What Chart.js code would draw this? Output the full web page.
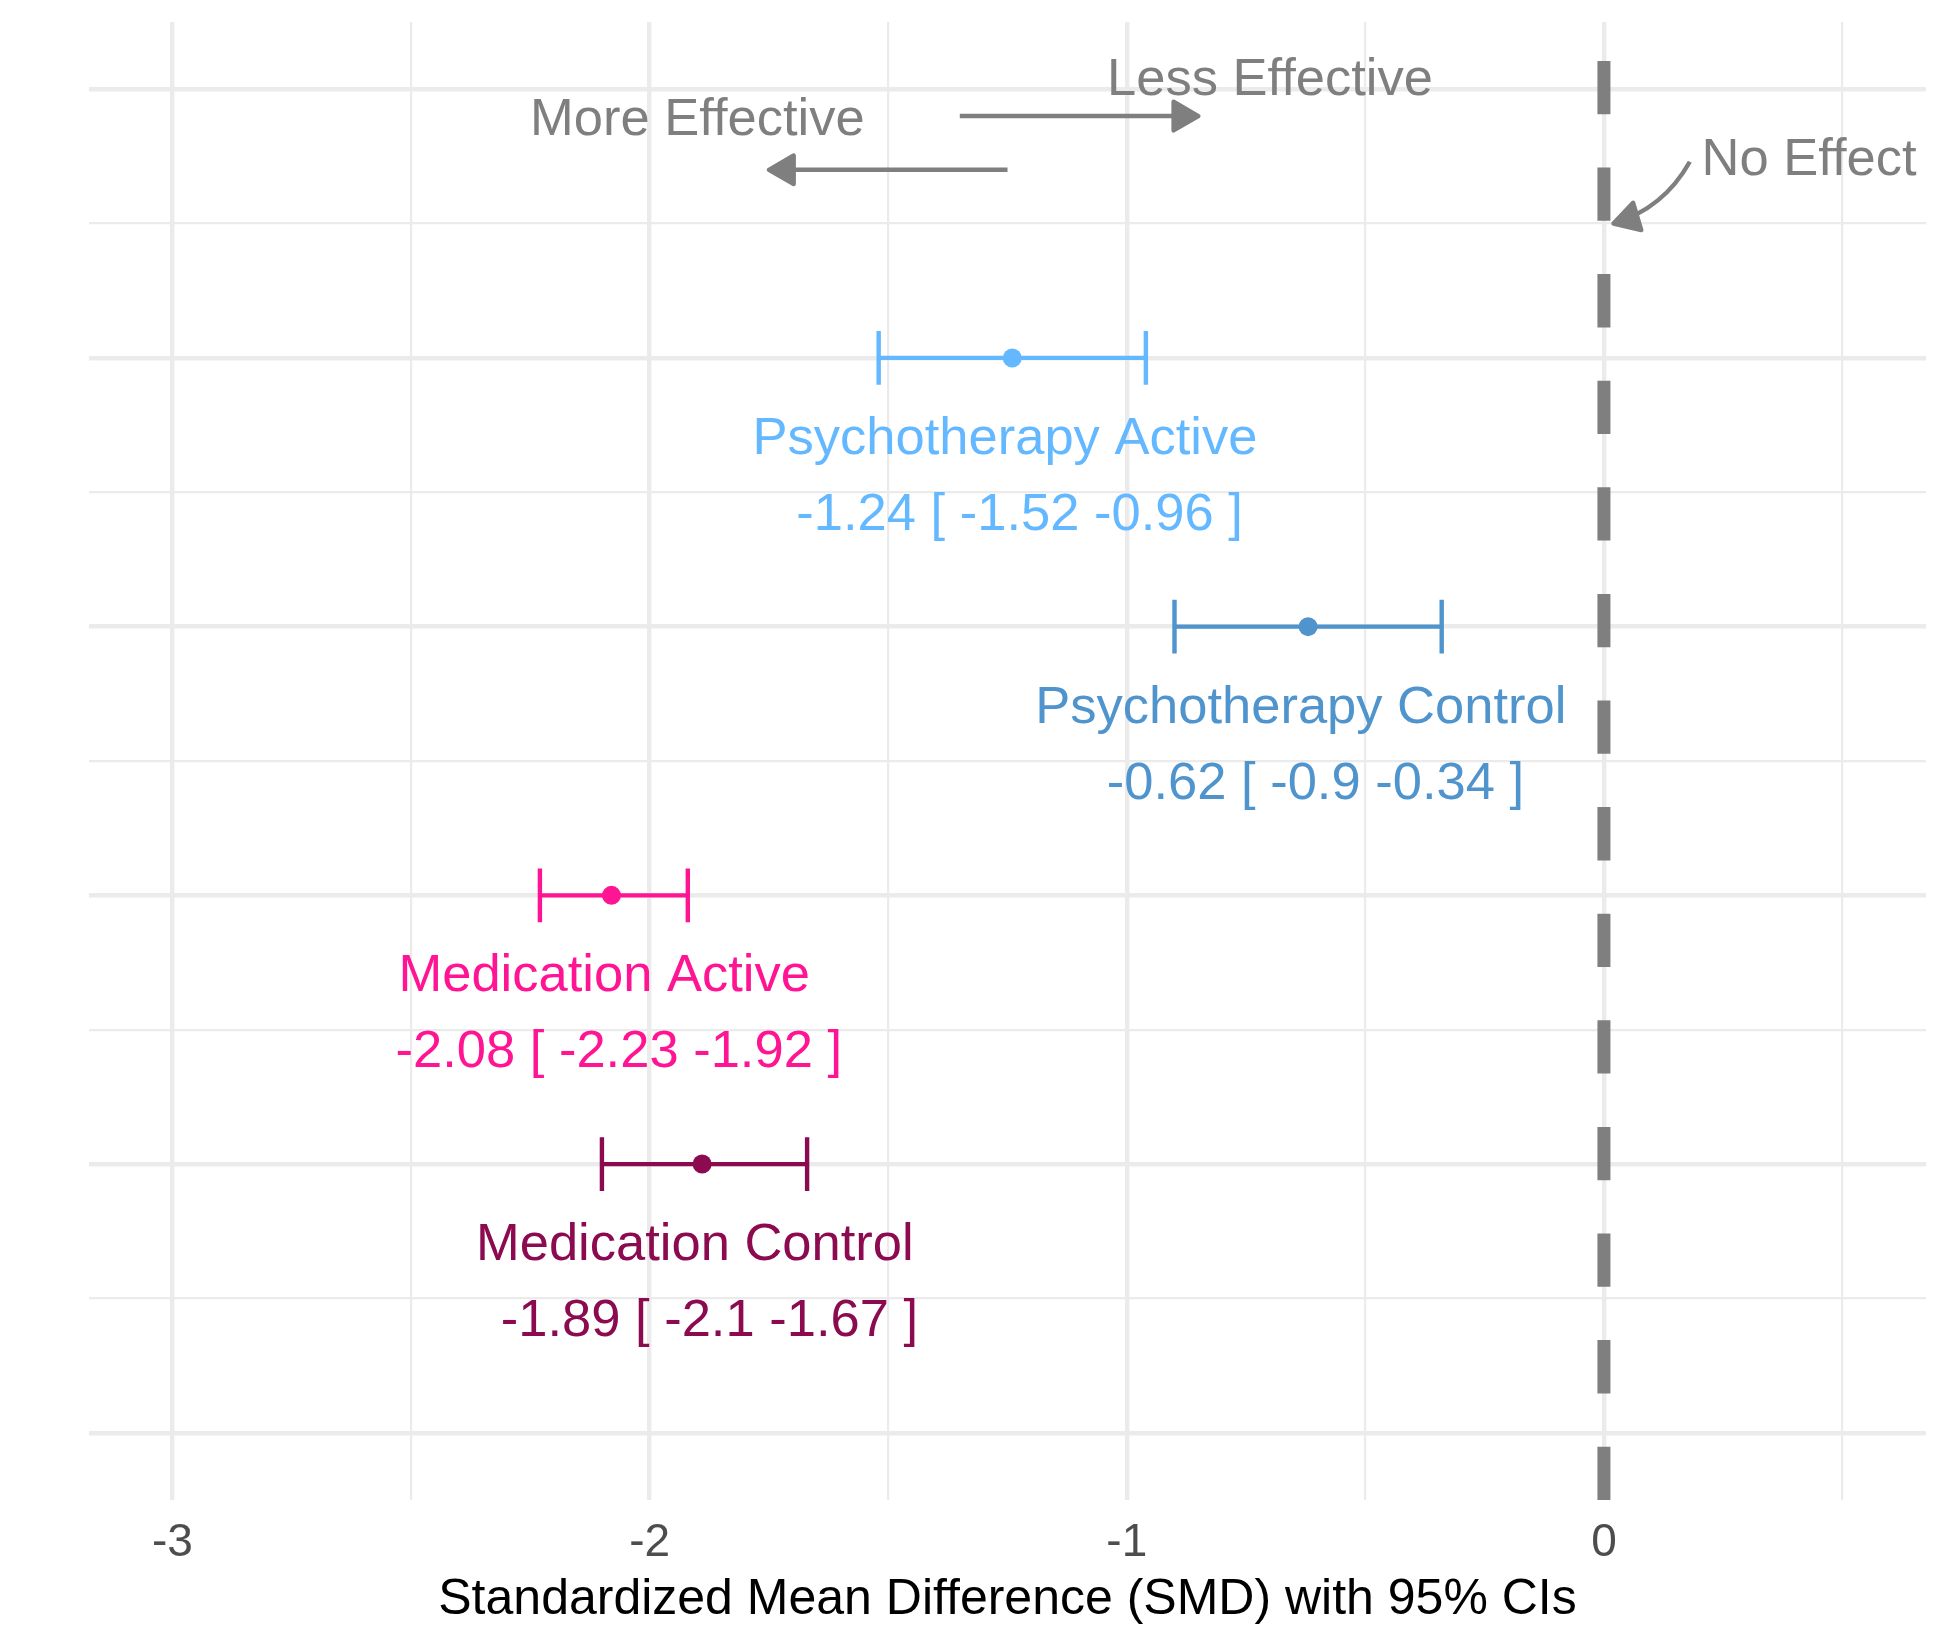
<!DOCTYPE html>
<html>
<head>
<meta charset="utf-8">
<script src="https://cdn.jsdelivr.net/npm/chart.js@4.4.1/dist/chart.umd.min.js"></script>
<style>
  html, body { margin: 0; padding: 0; background: #ffffff; }
  canvas { display: block; }
</style>
</head>
<body>
<canvas id="chart" width="1950" height="1650" style="width:1950px;height:1650px"></canvas>
<script>
// ---------------- data ----------------
const groups = ['Psychotherapy Active', 'Psychotherapy Control', 'Medication Active', 'Medication Control'];
const estimates = [-1.24, -0.62, -2.08, -1.89];
const ciLower = [-1.52, -0.9, -2.23, -2.1];
const ciUpper = [-0.96, -0.34, -1.92, -1.67];
const rowPositions = [4, 3, 2, 1];
const groupColors = ['#63B8FF', '#4F94CD', '#FF1493', '#8B0A50'];

const xTickValues = [-3, -2.5, -2, -1.5, -1, -0.5, 0, 0.5];
const xTickLabels = ['-3', '', '-2', '', '-1', '', '0', ''];
const yGridValues = [0, 0.5, 1, 1.5, 2, 2.5, 3, 3.5, 4, 4.5, 5];
const xAxisTitle = 'Standardized Mean Difference (SMD) with 95% CIs';

const noEffectValue = 0;

// annotations (data units)
const annotationTexts = ['Less Effective', 'More Effective', 'No Effect'];
const annotationX = [-0.7, -1.9, 0.43];
const annotationY = [5.05, 4.9, 4.75];
const arrowStartX = [-1.35, -1.25];
const arrowEndX = [-0.85, -1.75];
const arrowY = [4.9, 4.7];
const curveStart = [0.18, 4.73];
const curveControl = [0.125, 4.556];
const curveEnd = [0.02, 4.5];

// ---------------- styles ----------------
const FONT = '"Liberation Sans", Arial, Helvetica, sans-serif';
const X_MIN = -3.175, X_MAX = 0.675, Y_MIN = -0.25, Y_MAX = 5.25;
const CAP_HALF = 0.1;
const NAME_OFFSET = 0.357, STAT_OFFSET = 0.640;
const GRAY = '#7F7F7F';

// ---------------- datasets ----------------
const datasets = [];

// dashed no-effect line (drawn from bottom up)
datasets.push({
  label: 'no effect',
  data: [{x: noEffectValue, y: Y_MIN}, {x: noEffectValue, y: Y_MAX}],
  showLine: true,
  borderColor: GRAY,
  borderWidth: 13,
  borderDash: [53.3, 53.3],
  borderCapStyle: 'butt',
  pointRadius: 0,
  order: 3
});

// error bars
groups.forEach((g, i) => {
  const y = rowPositions[i];
  datasets.push({
    label: g + ' CI',
    data: [
      {x: ciLower[i], y: y - CAP_HALF}, {x: ciLower[i], y: y + CAP_HALF}, {x: null, y: null},
      {x: ciLower[i], y: y}, {x: ciUpper[i], y: y}, {x: null, y: null},
      {x: ciUpper[i], y: y - CAP_HALF}, {x: ciUpper[i], y: y + CAP_HALF}
    ],
    showLine: true,
    spanGaps: false,
    borderColor: groupColors[i],
    borderWidth: 4.4,
    borderCapStyle: 'butt',
    pointRadius: 0,
    order: 2
  });
});

// point estimates
datasets.push({
  label: 'estimates',
  data: estimates.map((e, i) => ({x: e, y: rowPositions[i]})),
  pointRadius: 9.5,
  pointBackgroundColor: groupColors,
  pointBorderColor: groupColors,
  pointBorderWidth: 0,
  showLine: false,
  order: 1
});

// ---------------- annotation plugin ----------------
function drawArrowHead(ctx, tipX, tipY, dirX, dirY, color) {
  const len = Math.hypot(dirX, dirY);
  const ux = dirX / len, uy = dirY / len;
  const side = 28.6, ang = Math.PI / 6;
  const ax = side * Math.cos(ang), aw = side * Math.sin(ang);
  const bx = tipX - ux * ax, by = tipY - uy * ax;
  ctx.beginPath();
  ctx.moveTo(tipX, tipY);
  ctx.lineTo(bx - uy * aw, by + ux * aw);
  ctx.lineTo(bx + uy * aw, by - ux * aw);
  ctx.closePath();
  ctx.fillStyle = color;
  ctx.strokeStyle = color;
  ctx.lineWidth = 4.4;
  ctx.lineJoin = 'round';
  ctx.fill();
  ctx.stroke();
}

const annotationPlugin = {
  id: 'forestAnnotations',
  afterDatasetsDraw(chart) {
    const {ctx} = chart;
    const xs = chart.scales.x, ys = chart.scales.y;
    ctx.save();

    // group labels
    const labelSize = 52.5;
    ctx.font = `${labelSize}px ${FONT}`;
    ctx.textAlign = 'center';
    ctx.textBaseline = 'alphabetic';
    groups.forEach((g, i) => {
      const px = xs.getPixelForValue(estimates[i]);
      ctx.fillStyle = groupColors[i];
      ctx.fillText(g + ' ', px, ys.getPixelForValue(rowPositions[i] - NAME_OFFSET));
      const stat = ' ' + estimates[i] + ' [ ' + ciLower[i] + ' ' + ciUpper[i] + ' ]';
      ctx.fillText(stat, px, ys.getPixelForValue(rowPositions[i] - STAT_OFFSET));
    });

    // annotation texts (cap-centred at the given y)
    ctx.fillStyle = GRAY;
    annotationTexts.forEach((t, i) => {
      const px = xs.getPixelForValue(annotationX[i]);
      const py = ys.getPixelForValue(annotationY[i]) + 0.358 * labelSize;
      ctx.fillText(t, px, py);
    });

    // straight arrows
    arrowStartX.forEach((sx, i) => {
      const x0 = xs.getPixelForValue(sx), x1 = xs.getPixelForValue(arrowEndX[i]);
      const y0 = ys.getPixelForValue(arrowY[i]);
      ctx.beginPath();
      ctx.moveTo(x0, y0);
      ctx.lineTo(x1 - Math.sign(x1 - x0) * 20, y0);
      ctx.strokeStyle = GRAY;
      ctx.lineWidth = 4.4;
      ctx.lineCap = 'butt';
      ctx.stroke();
      drawArrowHead(ctx, x1, y0, x1 - x0, 0, GRAY);
    });

    // curved arrow to the no-effect line
    const sX = xs.getPixelForValue(curveStart[0]), sY = ys.getPixelForValue(curveStart[1]);
    const cX = xs.getPixelForValue(curveControl[0]), cY = ys.getPixelForValue(curveControl[1]);
    const eX = xs.getPixelForValue(curveEnd[0]), eY = ys.getPixelForValue(curveEnd[1]);
    ctx.beginPath();
    ctx.moveTo(sX, sY);
    ctx.quadraticCurveTo(cX, cY, eX, eY);
    ctx.strokeStyle = GRAY;
    ctx.lineWidth = 4.4;
    ctx.lineCap = 'butt';
    ctx.stroke();
    drawArrowHead(ctx, eX, eY, eX - cX, eY - cY, GRAY);

    ctx.restore();
  }
};

// ---------------- chart ----------------
const gridWidth = ctx => (ctx.tick && Number.isInteger(ctx.tick.value)) ? 4.4 : 2.2;

new Chart(document.getElementById('chart'), {
  type: 'scatter',
  data: {datasets},
  options: {
    responsive: false,
    animation: false,
    devicePixelRatio: 1,
    layout: {padding: {left: 89, right: 24, top: 22, bottom: 0}},
    plugins: {legend: {display: false}, tooltip: {enabled: false}},
    scales: {
      x: {
        type: 'linear',
        position: 'bottom',
        min: X_MIN,
        max: X_MAX,
        afterBuildTicks: scale => { scale.ticks = xTickValues.map(v => ({value: v})); },
        afterFit: scale => { scale.height = 150; },
        grid: {color: '#EBEBEB', lineWidth: gridWidth, drawTicks: false},
        border: {display: false},
        ticks: {
          autoSkip: false,
          maxRotation: 0,
          padding: 16,
          color: '#4D4D4D',
          font: {family: FONT, size: 46},
          callback: (v, i) => xTickLabels[i]
        },
        title: {
          display: true,
          text: xAxisTitle,
          color: '#000000',
          font: {family: FONT, size: 50},
          padding: {top: 0, bottom: 20}
        }
      },
      y: {
        type: 'linear',
        min: Y_MIN,
        max: Y_MAX,
        afterBuildTicks: scale => { scale.ticks = yGridValues.map(v => ({value: v})); },
        afterFit: scale => { scale.width = 0; },
        grid: {color: '#EBEBEB', lineWidth: gridWidth, drawTicks: false},
        border: {display: false},
        ticks: {display: false}
      }
    }
  },
  plugins: [annotationPlugin]
});
</script>
</body>
</html>
